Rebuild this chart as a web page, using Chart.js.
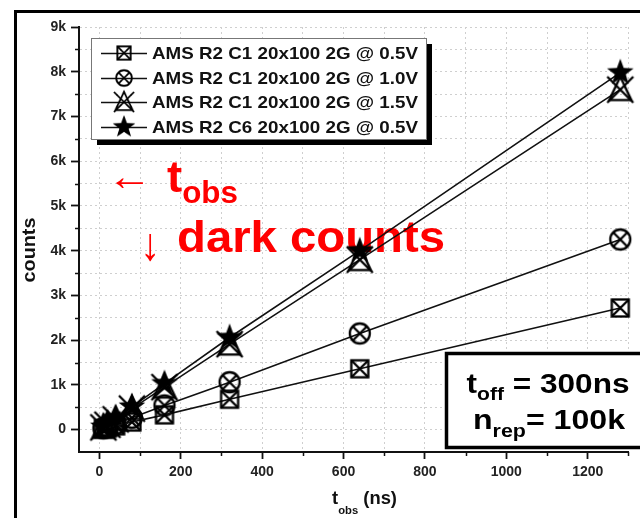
<!DOCTYPE html>
<html>
<head>
<meta charset="utf-8">
<script src="https://cdn.jsdelivr.net/npm/chart.js@4.4.0/dist/chart.umd.min.js"></script>
<style>
html, body { margin: 0; padding: 0; background: #fff; overflow: hidden; }
canvas { display: block; }
</style>
</head>
<body>
<canvas id="chart" width="640" height="518"></canvas>
<script>
// observation times (ns)
const tObs = [10, 20, 40, 80, 160, 320, 640, 1280];

// dark counts per series
const c1At05V = [20, 40, 85, 170, 330, 680, 1360, 2720];
const c1At10V = [30, 60, 130, 265, 540, 1060, 2150, 4250];
const c1At15V = [50, 110, 230, 470, 950, 1910, 3800, 7600];
const c6At05V = [60, 120, 250, 510, 1030, 2060, 4000, 7980];

const seriesNames = [
    'AMS R2 C1 20x100 2G @ 0.5V',
    'AMS R2 C1 20x100 2G @ 1.0V',
    'AMS R2 C1 20x100 2G @ 1.5V',
    'AMS R2 C6 20x100 2G @ 0.5V'
];
const seriesMarkers = ['squareX', 'circleX', 'triangleX', 'star'];

// axis ticks
const xMajor = [0, 200, 400, 600, 800, 1000, 1200];
const xMajorLabels = ['0', '200', '400', '600', '800', '1000', '1200'];
const xMinor = [100, 300, 500, 700, 900, 1100, 1300];
const yMajor = [0, 1000, 2000, 3000, 4000, 5000, 6000, 7000, 8000, 9000];
const yMajorLabels = ['0', '1k', '2k', '3k', '4k', '5k', '6k', '7k', '8k', '9k'];
const yMinor = [500, 1500, 2500, 3500, 4500, 5500, 6500, 7500, 8500];

const FONT = '"Liberation Sans", Arial, sans-serif';
Chart.defaults.font.family = FONT;

function makeMarker(kind) {
    const s = 34;
    const c = document.createElement('canvas');
    c.width = s; c.height = s;
    const g = c.getContext('2d');
    g.translate(s / 2, s / 2);
    g.strokeStyle = '#000';
    g.fillStyle = '#000';
    g.lineWidth = 2.3;
    if (kind === 'squareX') {
        const h = 8.5;
        g.strokeRect(-h, -h, 2 * h, 2 * h);
        g.beginPath(); g.moveTo(-h, -h); g.lineTo(h, h); g.moveTo(h, -h); g.lineTo(-h, h); g.stroke();
    } else if (kind === 'circleX') {
        const r = 10;
        g.beginPath(); g.arc(0, 0, r, 0, Math.PI * 2); g.stroke();
        const d = r * 0.72;
        g.beginPath(); g.moveTo(-d, -d); g.lineTo(d, d); g.moveTo(d, -d); g.lineTo(-d, d); g.stroke();
    } else if (kind === 'triangleX') {
        const h = 13;
        g.beginPath(); g.moveTo(0, -h); g.lineTo(h * 0.85, h * 0.8); g.lineTo(-h * 0.85, h * 0.8); g.closePath(); g.stroke();
        g.beginPath(); g.moveTo(-h, -h); g.lineTo(h, h); g.moveTo(h, -h); g.lineTo(-h, h); g.stroke();
    } else {
        const ro = 14, ri = 5.8;
        g.beginPath();
        for (let i = 0; i < 10; i++) {
            const r = i % 2 ? ri : ro;
            const a = -Math.PI / 2 + i * Math.PI / 5;
            g.lineTo(r * Math.cos(a), r * Math.sin(a));
        }
        g.closePath(); g.fill();
    }
    return c;
}

const markerImages = seriesMarkers.map(makeMarker);

function labelFor(v, major, labels) {
    const i = major.indexOf(v);
    return i >= 0 ? labels[i] : '';
}

// draw a run of text pieces (text, font, dy) squeezed/stretched to a target width
function drawParts(ctx, parts, x, y, width, align) {
    let total = 0;
    parts.forEach(p => { ctx.font = p[1]; total += ctx.measureText(p[0]).width; });
    const sx = width ? width / total : 1;
    ctx.save();
    ctx.translate(x, y);
    ctx.scale(sx, 1);
    let cx = align === 'center' ? -total / 2 : 0;
    ctx.textAlign = 'left';
    ctx.textBaseline = 'alphabetic';
    parts.forEach(p => {
        ctx.font = p[1];
        ctx.fillText(p[0], cx, p[2]);
        cx += ctx.measureText(p[0]).width;
    });
    ctx.restore();
}

const overlayPlugin = {
    id: 'overlay',
    beforeDraw(chart) {
        const ctx = chart.ctx;
        ctx.save();
        ctx.fillStyle = '#fff';
        ctx.fillRect(0, 0, chart.width, chart.height);
        ctx.strokeStyle = '#000';
        ctx.lineWidth = 3;
        ctx.strokeRect(15.5, 11.5, 700, 600);
        ctx.restore();
    },
    beforeDatasetsDraw(chart) {
        // red annotations sit under the data lines
        const ctx = chart.ctx;
        ctx.save();
        ctx.fillStyle = '#ff0000';
        drawParts(ctx, [['\u2190', '40px ' + FONT, 0]], 107, 190, 45);
        drawParts(ctx, [['t', 'bold 45px ' + FONT, 0], ['obs', 'bold 31px ' + FONT, 11]], 167, 192, 71);
        drawParts(ctx, [['\u2193', '46px ' + FONT, 0]], 150, 260, 20, 'center');
        drawParts(ctx, [['dark counts', 'bold 45px ' + FONT, 0]], 177, 252, 268);
        ctx.restore();
    },
    afterDraw(chart) {
        const ctx = chart.ctx;
        const xs = chart.scales.x, ys = chart.scales.y;
        const area = chart.chartArea;
        ctx.save();

        // minor ticks
        ctx.strokeStyle = '#111';
        ctx.lineWidth = 1.5;
        ctx.beginPath();
        yMinor.forEach(v => {
            const py = Math.round(ys.getPixelForValue(v)) + 0.5;
            ctx.moveTo(area.left - 4, py); ctx.lineTo(area.left, py);
        });
        xMinor.forEach(v => {
            const px = Math.round(xs.getPixelForValue(v)) + 0.5;
            ctx.moveTo(px, area.bottom); ctx.lineTo(px, area.bottom + 4);
        });
        ctx.stroke();

        // axis titles
        ctx.fillStyle = '#111';
        drawParts(ctx, [['t', 'bold 18px ' + FONT, 0], ['obs', 'bold 11px ' + FONT, 10],
                        [' (ns)', 'bold 18px ' + FONT, 0]], 332, 504, 65);
        ctx.save();
        ctx.translate(35, 250);
        ctx.rotate(-Math.PI / 2);
        drawParts(ctx, [['counts', 'bold 18px ' + FONT, 0]], 0, 0, 65, 'center');
        ctx.restore();

        // legend box with drop shadow
        const lx = 91, ly = 38, lw = 335, lh = 101;
        ctx.fillStyle = '#000';
        ctx.fillRect(lx + 6, ly + 6, lw, lh);
        ctx.fillStyle = '#fff';
        ctx.fillRect(lx, ly, lw, lh);
        ctx.strokeStyle = '#777';
        ctx.lineWidth = 1;
        ctx.strokeRect(lx + 0.5, ly + 0.5, lw, lh);
        const rowY = [53, 78, 102, 127];
        seriesNames.forEach((name, i) => {
            const y = rowY[i];
            ctx.strokeStyle = '#111';
            ctx.lineWidth = 1.6;
            ctx.beginPath(); ctx.moveTo(101, y + 0.5); ctx.lineTo(147, y + 0.5); ctx.stroke();
            const img = markerImages[i];
            const k = i === 3 ? 0.85 : 0.78;
            ctx.drawImage(img, 124 - img.width * k / 2, y - img.height * k / 2, img.width * k, img.height * k);
            ctx.fillStyle = '#111';
            drawParts(ctx, [[name, 'bold 17px ' + FONT, 0]], 152, y + 6, 266);
        });

        // parameter box
        ctx.fillStyle = '#fff';
        ctx.fillRect(445, 352, 230, 96);
        ctx.strokeStyle = '#000';
        ctx.lineWidth = 3.5;
        ctx.strokeRect(446.5, 353.5, 230, 94);
        ctx.fillStyle = '#000';
        drawParts(ctx, [['t', 'bold 27px ' + FONT, 0], ['off', 'bold 18px ' + FONT, 7],
                        [' = 300ns', 'bold 27px ' + FONT, 0]], 548, 393, 163, 'center');
        drawParts(ctx, [['n', 'bold 27px ' + FONT, 0], ['rep', 'bold 18px ' + FONT, 8],
                        ['= 100k', 'bold 27px ' + FONT, 0]], 549, 429, 152, 'center');
        ctx.restore();
    }
};

const seriesValues = [c1At05V, c1At10V, c1At15V, c6At05V];

const datasets = seriesValues.map((vals, i) => ({
    label: seriesNames[i],
    data: tObs.map((t, j) => ({ x: t, y: vals[j] })),
    borderColor: '#111',
    borderWidth: 1.6,
    pointStyle: markerImages[i],
    pointRadius: 10,
    clip: false,
    tension: 0
}));

const tickColorFor = major => ctx =>
    (ctx.tick && major.indexOf(ctx.tick.value) >= 0) ? '#111' : 'rgba(0,0,0,0)';

new Chart(document.getElementById('chart'), {
    type: 'line',
    data: { datasets: datasets },
    options: {
        responsive: false,
        animation: false,
        events: [],
        layout: { padding: { left: 0, top: 27, right: 0, bottom: 0 } },
        plugins: { legend: { display: false }, tooltip: { enabled: false } },
        scales: {
            x: {
                type: 'linear',
                min: -50,
                max: 1300,
                afterBuildTicks: s => { s.ticks = xMajor.concat(xMinor).sort((a, b) => a - b).map(v => ({ value: v })); },
                afterFit: s => { s.height = 66; },
                ticks: {
                    autoSkip: false, maxRotation: 0, padding: 5, color: '#222',
                    font: { size: 14, weight: 'bold' },
                    callback: v => labelFor(v, xMajor, xMajorLabels)
                },
                grid: { color: '#cfcfcf', lineWidth: 1, tickLength: 7, tickWidth: 1.8,
                        tickColor: tickColorFor(xMajor), tickBorderDash: [] },
                border: { display: true, color: '#111', width: 2, dash: [2, 3] }
            },
            y: {
                type: 'linear',
                min: -500,
                max: 9000,
                afterBuildTicks: s => { s.ticks = yMajor.concat(yMinor).sort((a, b) => a - b).map(v => ({ value: v })); },
                afterFit: s => { s.width = 79; },
                ticks: {
                    autoSkip: false, padding: 5, color: '#222',
                    font: { size: 14, weight: 'bold' },
                    callback: v => labelFor(v, yMajor, yMajorLabels)
                },
                grid: { color: '#cfcfcf', lineWidth: 1, tickLength: 8, tickWidth: 1.8,
                        tickColor: tickColorFor(yMajor), tickBorderDash: [] },
                border: { display: true, color: '#111', width: 2, dash: [2, 3] }
            }
        }
    },
    plugins: [overlayPlugin]
});
</script>
</body>
</html>
